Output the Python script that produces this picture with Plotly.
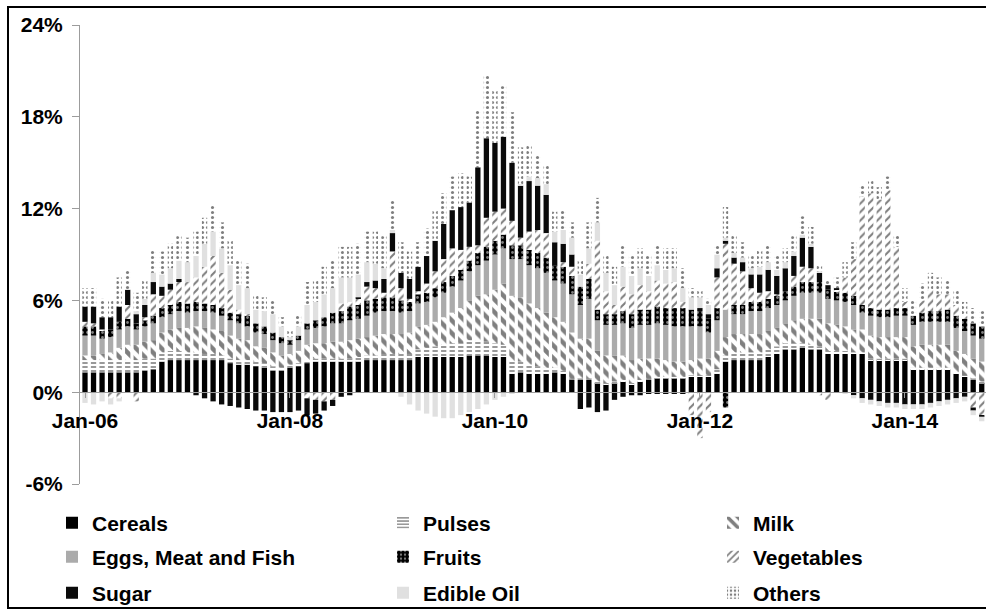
import pandas as pd
import plotly.graph_objects as go

# monthly contributions (percentage points), Jan-06 .. Oct-14
months = pd.date_range("2006-01-01", periods=106, freq="MS").strftime("%b-%y").tolist()

cereals = [
    1.3, 1.3, 1.3, 1.3, 1.3, 1.3, 1.3, 1.4, 1.5, 2.0, 2.1, 2.1,
    2.1, 2.1, 2.1, 2.1, 2.1, 1.9, 1.8, 1.8, 1.7, 1.6, 1.4, 1.4,
    1.6, 1.7, 1.9, 2.0, 2.0, 2.0, 2.0, 2.0, 2.0, 2.1, 2.1, 2.1,
    2.1, 2.1, 2.1, 2.3, 2.3, 2.3, 2.3, 2.3, 2.3, 2.4, 2.4, 2.4,
    2.3, 2.3, 1.2, 1.3, 1.2, 1.2, 1.2, 1.3, 1.2, 0.8, 0.8, 0.8,
    0.6, 0.5, 0.6, 0.7, 0.5, 0.7, 0.8, 0.9, 0.9, 0.9, 0.9, 1.0,
    1.0, 1.0, 1.2, 2.0, 2.1, 2.1, 2.1, 2.1, 2.3, 2.5, 2.8, 2.8,
    2.9, 2.8, 2.8, 2.5, 2.5, 2.5, 2.5, 2.5, 2.1, 2.1, 2.1, 2.1,
    2.1, 1.5, 1.5, 1.5, 1.5, 1.5, 1.2, 1.0, 0.8, 0.6]
pulses = [
    0.8, 0.8, 0.8, 0.8, 0.8, 0.8, 0.8, 0.8, 0.7, 0.6, 0.6, 0.6,
    0.5, 0.5, 0.4, 0.4, 0.3, 0.3, 0.3, 0.3, 0.3, 0.3, 0.3, 0.2,
    0.2, 0.2, 0.2, 0.2, 0.2, 0.2, 0.2, 0.2, 0.3, 0.3, 0.3, 0.4,
    0.4, 0.4, 0.4, 0.5, 0.6, 0.7, 0.8, 0.9, 0.9, 1.0, 1.0, 0.9,
    0.9, 0.8, 0.8, 0.7, 0.6, 0.5, 0.4, 0.3, 0.2, 0.1, 0.1, 0.1,
    0.1, 0.1, 0.1, 0.1, 0.1, 0.1, 0.1, 0.1, 0.1, 0.1, 0.1, 0.1,
    0.1, 0.1, 0.3, 0.4, 0.5, 0.5, 0.5, 0.5, 0.5, 0.5, 0.4, 0.4,
    0.3, 0.3, 0.2, 0.2, 0.2, 0.2, 0.1, 0.1, 0.1, 0.1, 0.1, 0.1,
    0.1, 0.1, 0.1, 0.1, 0.1, 0.1, 0.1, 0.1, 0.1, 0.1]
milk = [
    0.3, 0.3, 0.4, 0.5, 0.8, 1.0, 1.0, 1.1, 1.2, 1.3, 1.4, 1.5,
    1.6, 1.7, 1.7, 1.6, 1.6, 1.5, 1.4, 1.3, 1.0, 1.0, 0.9, 0.8,
    0.7, 0.8, 1.0, 1.0, 1.0, 1.1, 1.1, 1.2, 1.2, 1.2, 1.3, 1.3,
    1.3, 1.3, 1.4, 1.5, 1.5, 1.6, 1.8, 2.0, 2.3, 2.6, 2.9, 3.1,
    3.5, 4.0, 4.3, 4.2, 4.0, 3.8, 3.6, 3.3, 3.2, 3.0, 2.6, 2.6,
    2.0, 1.8, 1.7, 1.6, 1.5, 1.4, 1.3, 1.2, 1.1, 1.0, 1.0, 1.0,
    1.1, 1.1, 1.2, 1.2, 1.2, 1.2, 1.2, 1.2, 1.2, 1.2, 1.3, 1.5,
    1.6, 1.7, 1.8, 1.8, 1.7, 1.6, 1.5, 1.5, 1.5, 1.4, 1.4, 1.4,
    1.4, 1.4, 1.5, 1.5, 1.5, 1.5, 1.4, 1.4, 1.3, 1.3]
eggs_meat_fish = [
    1.3, 1.3, 1.0, 1.0, 1.2, 1.2, 1.0, 1.0, 1.1, 1.0, 1.0, 1.1,
    1.0, 1.0, 1.1, 1.1, 1.0, 1.0, 1.0, 0.9, 0.9, 0.9, 0.8, 0.8,
    0.6, 0.7, 1.0, 1.0, 1.1, 1.2, 1.2, 1.3, 1.3, 1.4, 1.5, 1.5,
    1.5, 1.4, 1.4, 1.5, 1.5, 1.6, 1.6, 1.7, 1.8, 1.9, 2.0, 2.2,
    2.3, 2.3, 2.4, 2.5, 2.5, 2.6, 2.6, 2.4, 2.5, 2.5, 2.2, 2.6,
    2.0, 2.0, 2.0, 2.1, 2.1, 2.2, 2.2, 2.3, 2.3, 2.3, 2.3, 2.2,
    2.1, 1.7, 2.0, 1.8, 1.3, 1.3, 1.5, 1.5, 1.5, 1.5, 1.5, 1.6,
    1.7, 1.7, 1.7, 1.6, 1.6, 1.6, 1.6, 1.1, 1.3, 1.3, 1.3, 1.4,
    1.4, 1.4, 1.5, 1.5, 1.5, 1.5, 1.5, 1.5, 1.5, 1.5]
fruits = [
    0.6, 0.6, 0.5, 0.5, 0.5, 0.5, 0.4, 0.4, 0.5, 0.6, 0.6, 0.6,
    0.6, 0.6, 0.5, 0.5, 0.5, 0.5, 0.6, 0.7, 0.6, 0.5, 0.5, 0.4,
    0.3, 0.3, 0.4, 0.5, 0.6, 0.7, 0.8, 0.9, 0.9, 1.0, 0.9, 0.9,
    0.9, 0.8, 0.6, 0.6, 0.6, 0.6, 0.7, 0.7, 0.7, 0.7, 0.8, 0.9,
    0.9, 0.9, 0.9, 0.9, 1.0, 1.0, 1.0, 1.0, 1.1, 1.2, 1.2, 1.3,
    0.7, 0.7, 0.7, 0.8, 0.9, 1.0, 1.0, 1.1, 1.1, 1.2, 1.2, 1.1,
    1.0, 0.9, 0.8, -1.0, 0.6, 0.6, 0.6, 0.6, 0.6, 0.6, 0.6, 0.6,
    0.7, 0.7, 0.7, 0.6, 0.6, 0.6, 0.6, 0.5, 0.5, 0.5, 0.5, 0.5,
    0.5, 0.6, 0.6, 0.7, 0.7, 0.8, 0.8, 0.8, 0.8, 0.8]
vegetables = [
    0.3, 0.2, 0.1, -0.4, -0.4, 0.9, -0.6, 0.2, 1.4, 0.8, 1.0, 1.3,
    1.4, 1.6, 2.4, 3.2, 2.3, 1.5, 0.3, 0.1, 0.0, 0.0, 0.0, 0.0,
    0.0, 0.0, -0.4, -0.5, -0.6, -0.5, 0.5, 0.3, 0.4, 0.9, 0.7, 0.3,
    3.0, 0.8, 0.2, 0.2, 0.6, 1.1, 1.5, 1.8, 1.3, 0.9, 0.5, 1.9,
    1.9, 1.7, 1.6, 0.5, 1.2, 1.5, 1.6, 0.0, 0.3, 0.6, 0.0, 1.0,
    4.5, 1.5, 0.6, 1.6, 1.3, 1.6, 1.2, 1.7, 1.6, 1.7, 0.4, -1.5,
    -3.0, -1.3, 2.0, 4.3, 2.7, 2.2, 0.9, 0.6, 0.5, 0.1, 0.0, 0.7,
    1.0, 0.9, -0.2, -0.5, 0.1, 1.0, 2.4, 7.1, 7.5, 7.2, 7.8, 4.0,
    0.4, 0.0, 0.8, 1.4, 1.1, 1.0, 0.7, 0.2, -1.0, -1.5]
sugar = [
    1.0, 1.1, 0.8, 0.8, 1.0, 1.0, 0.6, 0.8, 0.8, 0.6, 0.4, 0.2,
    0.0, -0.2, -0.4, -0.6, -0.8, -0.9, -1.0, -1.1, -1.2, -1.2, -1.3, -1.3,
    -1.3, -1.2, -1.1, -0.9, -0.6, -0.4, -0.3, -0.2, 0.1, 0.3, 0.5, 0.9,
    1.2, 1.0, 1.3, 1.6, 1.8, 2.0, 2.3, 2.5, 2.8, 2.9, 5.1, 5.2,
    4.5, 4.7, 3.8, 3.4, 3.3, 2.9, 2.5, 1.5, 1.2, 0.8, -1.1, -1.0,
    -1.3, -1.2, -0.5, -0.3, -0.2, -0.2, -0.1, -0.1, -0.1, -0.1, -0.1, 0.0,
    0.2, 0.3, 0.6, 0.2, 0.4, 0.6, 0.9, 1.2, 1.4, 1.2, 1.5, 1.3,
    1.9, 1.4, 0.6, 0.3, 0.1, 0.0, -0.2, -0.4, -0.5, -0.6, -0.7, -0.7,
    -0.8, -0.8, -0.8, -0.7, -0.6, -0.5, -0.4, -0.3, -0.2, -0.1]
edible_oil = [
    -0.7, -0.8, -0.6, -0.4, -0.2, 0.0, 0.2, 0.4, 0.6, 0.8, 1.0, 1.2,
    1.3, 1.4, 1.5, 1.6, 1.6, 1.6, 1.6, 1.7, 0.9, 1.0, 1.2, 0.7,
    0.2, 0.6, 1.2, 1.2, 1.5, 1.6, 1.7, 1.6, 1.5, 1.3, 1.1, 0.7,
    0.2, -0.3, -0.8, -1.2, -1.4, -1.6, -1.7, -1.7, -1.5, -1.3, -1.1, -0.8,
    -0.5, -0.3, -0.1, 0.1, 0.3, 0.5, 0.7, 0.7, 0.9, 1.1, 0.8, 1.0,
    1.2, 1.2, 1.3, 1.3, 1.2, 1.1, 1.0, 1.0, 0.9, 0.9, 0.9, 0.8,
    0.7, 0.6, 0.9, 0.2, 0.3, 0.3, 0.4, 0.5, 0.5, 0.4, 0.4, 0.3,
    0.2, 0.2, 0.1, 0.0, 0.0, -0.1, -0.2, -0.3, -0.3, -0.3, -0.3, -0.3,
    -0.3, -0.3, -0.3, -0.3, -0.3, -0.3, -0.3, -0.3, -0.3, -0.3]
others = [
    1.2, 1.2, 1.2, 1.1, 1.9, 1.3, 1.2, 1.3, 1.5, 1.5, 1.6, 1.6,
    1.6, 1.6, 1.7, 1.7, 1.7, 1.6, 1.6, 1.6, 0.9, 0.9, 0.9, 0.6,
    0.4, 0.7, 1.5, 1.4, 1.8, 1.9, 2.0, 2.0, 2.0, 2.0, 2.1, 2.1,
    2.0, 2.0, 1.8, 1.6, 1.8, 2.0, 2.0, 2.2, 2.2, 1.7, 3.7, 4.1,
    3.5, 3.3, 3.3, 2.4, 2.0, 1.5, 1.2, 1.3, 1.3, 1.0, 0.9, 1.7,
    1.6, 1.2, 1.2, 1.4, 1.3, 1.3, 1.3, 1.3, 1.4, 1.3, 1.3, 0.6,
    0.5, 0.4, 0.6, 2.0, 1.2, 1.0, 0.9, 1.1, 1.1, 0.9, 0.9, 1.0,
    1.2, 1.1, 0.4, 0.3, 0.7, 1.0, 1.1, 0.8, 0.8, 0.8, 0.9, 0.8,
    0.9, 1.0, 1.1, 1.1, 1.1, 1.0, 1.0, 0.9, 1.0, 1.0]

y_ticks = [-6, 0, 6, 12, 18, 24]
x_ticks = ["Jan-06", "Jan-08", "Jan-10", "Jan-12", "Jan-14"]

FONT = "Liberation Sans, Arial, sans-serif"
W, H = 986, 610

# name, values, marker, legend slot (x, y) in pixels
series = [
    ("Cereals", cereals, dict(color="#000000"), (52, 523)),
    ("Pulses", pulses, dict(color="white", pattern=dict(shape="-", fgcolor="black", size=4, solidity=0.4)), (383, 523)),
    ("Milk", milk, dict(color="white", pattern=dict(shape="\\", fgcolor="black", size=9, solidity=0.5)), (713, 523)),
    ("Eggs, Meat and Fish", eggs_meat_fish, dict(color="#ababab"), (52, 557)),
    ("Fruits", fruits, dict(color="black", pattern=dict(shape=".", fgcolor="white", size=5, solidity=0.25)), (383, 557)),
    ("Vegetables", vegetables, dict(color="white", pattern=dict(shape="/", fgcolor="black", size=6, solidity=0.35)), (713, 557)),
    ("Sugar", sugar, dict(color="#0a0a0a"), (52, 593)),
    ("Edible Oil", edible_oil, dict(color="#e0e0e0"), (383, 593)),
    ("Others", others, dict(color="white", pattern=dict(shape=".", fgcolor="black", size=5, solidity=0.3)), (713, 593)),
]

fig = go.Figure()
legends = {}
for i, (name, vals, marker, (lx, ly)) in enumerate(series):
    leg = "legend" if i == 0 else f"legend{i + 1}"
    marker = dict(marker, line=dict(width=0))
    fig.add_trace(go.Bar(x=months, y=vals, name=name, marker=marker, legend=leg))
    legends[leg] = dict(xref="container", yref="container", x=lx / W, y=1 - ly / H,
                        xanchor="left", yanchor="middle", bgcolor="rgba(0,0,0,0)",
                        font=dict(family=FONT, size=21, color="black", weight="bold"))

# pixel -> paper helpers (plot area 80..986 x 25..484)
def px(x):
    return (x - 80) / 906

def py(y):
    return (484 - y) / 459

fig.update_layout(
    width=W, height=H, showlegend=True,
    margin=dict(l=80, r=0, t=25, b=126, autoexpand=False),
    paper_bgcolor="white", plot_bgcolor="white",
    barmode="relative", bargap=0.38,
    font=dict(family=FONT, color="black"),
    xaxis=dict(type="category", range=[-0.585, 105.5], anchor="free", position=0.2,
               tickmode="array", tickvals=x_ticks, ticktext=x_ticks,
               showline=True, linecolor="#9c9c9c", linewidth=1,
               ticks="outside", ticklen=5, tickcolor="#9c9c9c",
               showgrid=False, tickangle=0, automargin=False, ticklabelstandoff=5,
               tickfont=dict(family=FONT, size=21, color="black", weight="bold")),
    yaxis=dict(range=[-6, 24], tickvals=y_ticks, ticktext=[f"{v}%" for v in y_ticks],
               showline=True, linecolor="#9c9c9c", linewidth=1,
               ticks="outside", ticklen=7, tickcolor="#9c9c9c",
               showgrid=False, zeroline=False, ticklabelstandoff=5, automargin=False,
               tickfont=dict(family=FONT, size=21, color="black", weight="bold")),
    # outer frame; the right side runs past the edge of the picture
    shapes=[dict(type="rect", xref="paper", yref="paper",
                 x0=px(8), x1=px(1030), y0=py(608), y1=py(7),
                 line=dict(color="black", width=2), fillcolor="rgba(0,0,0,0)", layer="below")],
    **legends,
)

# drop the page's default body margin so the 986x610 figure sits at the origin
fig.write_html("out.html", config={"displayModeBar": False},
               post_script="document.body.style.margin='0';document.body.style.overflow='hidden';")
